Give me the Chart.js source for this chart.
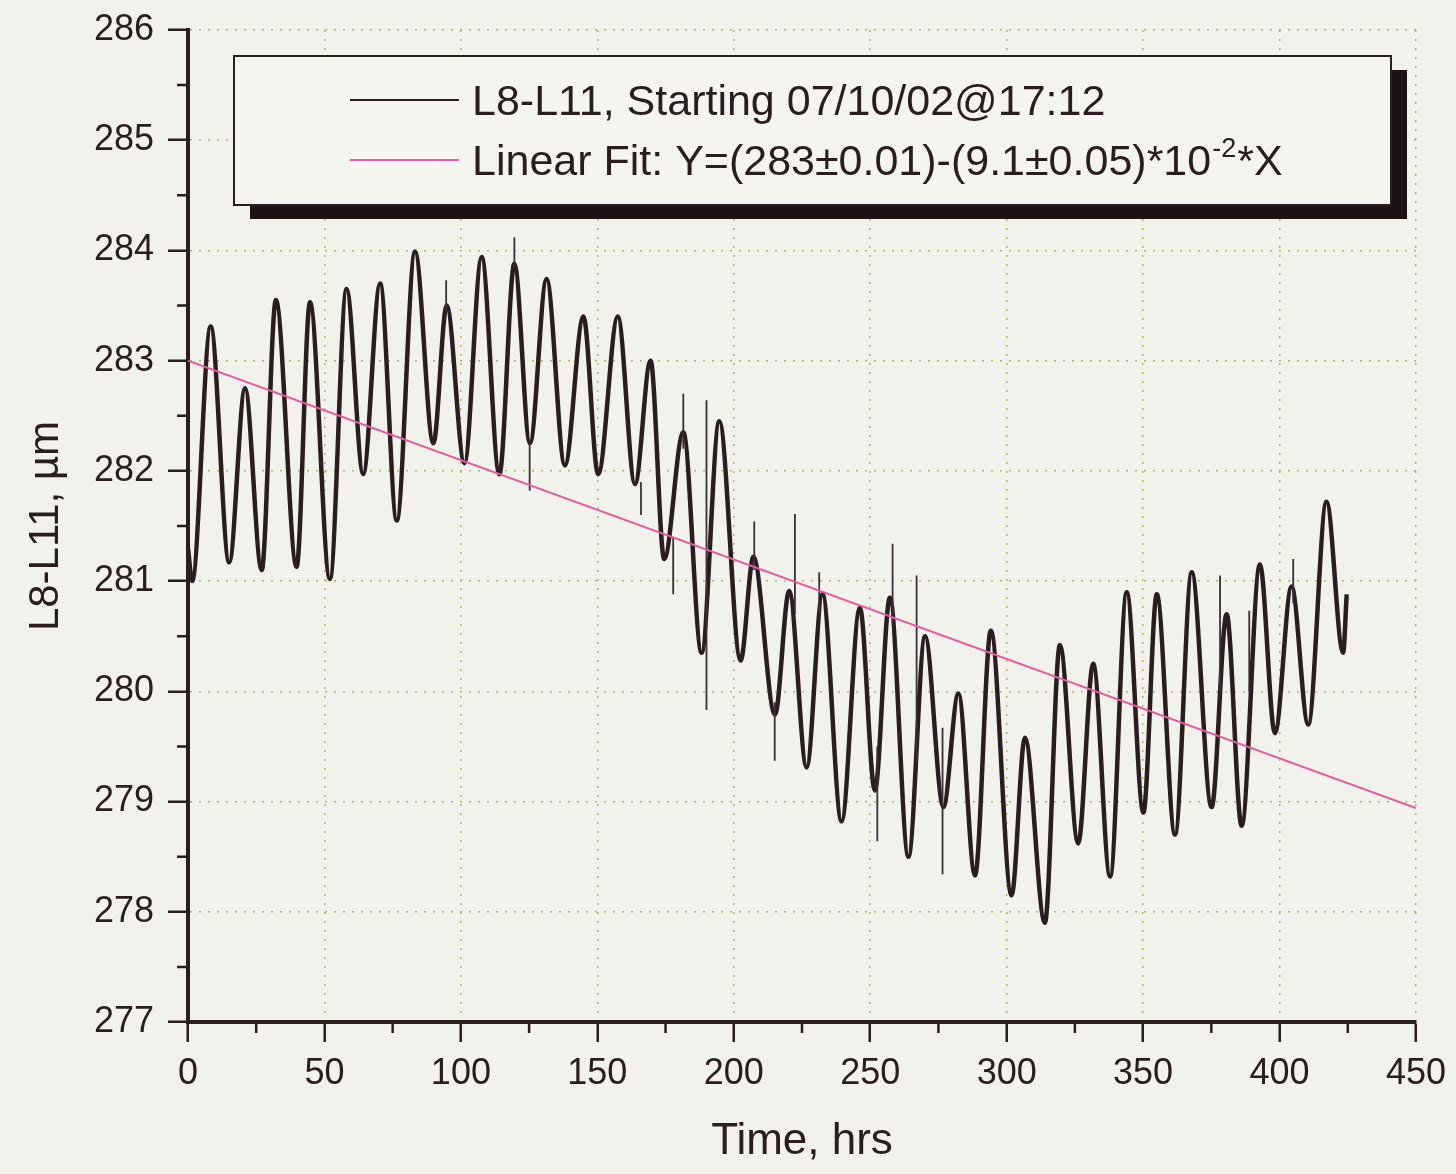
<!DOCTYPE html>
<html>
<head>
<meta charset="utf-8">
<title>L8-L11 vs time</title>
<script src="https://cdn.jsdelivr.net/npm/chart.js@4/dist/chart.umd.min.js"></script>
<style>
  body { margin: 0; background: #f1f2ec; }
  #wrap { width: 1456px; height: 1174px; }
</style>
</head>
<body>
<div id="wrap"><canvas id="gapChart" width="1456" height="1174"></canvas></div>
<script>
// peaks and troughs (hours, micrometres)
const timeHrs = [0, 1.5, 8.3, 15.1, 20.9, 27.0, 32.2, 39.8, 44.7, 52.0,
  58.1, 64.2, 70.4, 76.5, 83.2, 89.9, 94.8, 101.3, 107.6, 114.1,
  119.6, 125.3, 131.4, 138.1, 144.9, 150.3, 157.5, 163.8, 169.5, 174.5,
  181.5, 188.2, 194.7, 202.5, 207.2, 215.1, 220.3, 226.7, 232.5, 239.5,
  246.2, 251.7, 257.2, 264.0, 270.1, 276.8, 282.3, 288.4, 294.2, 301.8,
  306.7, 314.0, 319.5, 326.2, 331.7, 337.9, 344.0, 350.1, 355.0, 361.7,
  367.8, 375.1, 380.6, 386.1, 392.8, 398.3, 404.4, 410.5, 417.2, 423.3, 424.6];
const gapUm = [281.3, 281.0, 283.31, 281.17, 282.75, 281.10, 283.55, 281.13, 283.53, 281.02,
  283.65, 281.97, 283.70, 281.55, 283.99, 282.25, 283.50, 282.07, 283.94, 281.97,
  283.88, 282.25, 283.74, 282.05, 283.40, 281.97, 283.40, 281.88, 283.00, 281.20,
  282.35, 280.35, 282.45, 280.28, 281.22, 279.79, 280.91, 279.31, 280.88, 278.82,
  280.76, 279.10, 280.85, 278.50, 280.50, 278.95, 279.98, 278.33, 280.55, 278.15,
  279.58, 277.90, 280.42, 278.62, 280.25, 278.32, 280.90, 278.90, 280.88, 278.70,
  281.08, 278.95, 280.70, 278.78, 281.15, 279.62, 280.95, 279.70, 281.72, 280.35, 280.88];

// isolated spikes in the record
const spikeTimes = [94.6, 119.6, 125.2, 166.0, 177.8, 181.5, 190.0, 207.5, 215.0, 222.4,
  231.3, 252.6, 258.2, 267.0, 276.5, 378.2, 388.9, 405.0];
const spikeLow = [283.45, 283.85, 281.82, 281.60, 280.88, 282.20, 279.83, 281.10, 279.37, 280.70,
  280.70, 278.64, 280.60, 279.35, 278.34, 279.98, 280.00, 280.80];
const spikeHigh = [283.73, 284.12, 282.25, 281.90, 281.40, 282.70, 282.64, 281.54, 279.90, 281.61,
  281.08, 279.50, 281.34, 281.05, 279.67, 281.05, 280.73, 281.20];

// linear fit line end points
const fitTimes = [0, 450];
const fitValues = [283.0, 278.94];

const xMin = 0, xMax = 450, xStep = 50, xMinorStep = 25;
const yMin = 277, yMax = 286, yStep = 1, yMinorStep = 0.5;

const seriesLabel = "L8-L11, Starting 07/10/02@17:12";
const fitLabel = "Linear Fit: Y=(283\u00b10.01)-(9.1\u00b10.05)*10";

const ink = "#2a1c1f";
const fitColor = "#e65b9f";
const gridColor = "#b7b266";
const fontFam = '"Liberation Sans", Arial, sans-serif';

const seriesPts = timeHrs.map((t, i) => ({ x: t, y: gapUm[i] }));
const spikePts = [];
spikeTimes.forEach((t, i) => {
  spikePts.push({ x: t, y: spikeLow[i] }, { x: t, y: spikeHigh[i] }, { x: t, y: null });
});
const fitPts = fitTimes.map((t, i) => ({ x: t, y: fitValues[i] }));

const paperBg = {
  id: "paperBg",
  beforeDraw(chart) {
    const c = chart.ctx;
    c.save();
    c.fillStyle = "#f1f2ec";
    c.fillRect(0, 0, chart.width, chart.height);
    c.restore();
  }
};

// short minor ticks between the major ones
const minorTicks = {
  id: "minorTicks",
  afterDraw(chart) {
    const c = chart.ctx, xs = chart.scales.x, ys = chart.scales.y, a = chart.chartArea;
    c.save();
    c.strokeStyle = ink;
    c.lineWidth = 2.5;
    c.beginPath();
    for (let v = xMin + xMinorStep; v < xMax; v += xStep) {
      const px = xs.getPixelForValue(v);
      c.moveTo(px, a.bottom);
      c.lineTo(px, a.bottom + 11);
    }
    for (let v = yMin + yMinorStep; v < yMax; v += yStep) {
      const py = ys.getPixelForValue(v);
      c.moveTo(a.left, py);
      c.lineTo(a.left - 11, py);
    }
    c.stroke();
    c.restore();
  }
};

// boxed legend with drop shadow, like the original plot
const boxLegend = {
  id: "boxLegend",
  afterDraw(chart) {
    const c = chart.ctx;
    const bx = 234, by = 56, bw = 1157, bh = 149;
    c.save();
    c.fillStyle = "#1e1214";
    c.fillRect(bx + 16, by + 14, bw, bh);
    c.fillStyle = "#f4f5f0";
    c.fillRect(bx, by, bw, bh);
    c.strokeStyle = ink;
    c.lineWidth = 2;
    c.strokeRect(bx, by, bw, bh);

    c.lineWidth = 2;
    c.strokeStyle = ink;
    c.beginPath(); c.moveTo(350, 100); c.lineTo(459, 100); c.stroke();
    c.strokeStyle = fitColor;
    c.beginPath(); c.moveTo(350, 160); c.lineTo(459, 160); c.stroke();

    c.fillStyle = ink;
    c.textBaseline = "alphabetic";
    c.font = "43px " + fontFam;
    c.fillText(seriesLabel, 472, 115);
    c.fillText(fitLabel, 472, 175);
    const w = c.measureText(fitLabel).width;
    c.font = "27px " + fontFam;
    c.fillText("-2", 472 + w + 1, 157);
    const w2 = c.measureText("-2").width;
    c.font = "43px " + fontFam;
    c.fillText("*X", 472 + w + w2 + 2, 175);
    c.restore();
  }
};

new Chart(document.getElementById("gapChart"), {
  type: "line",
  data: {
    datasets: [{
      label: fitLabel,
      data: fitPts,
      borderColor: fitColor,
      borderWidth: 2,
      pointRadius: 0,
      tension: 0,
      order: 0
    }, {
      label: "spikes",
      data: spikePts,
      borderColor: "#3d2c3a",
      borderWidth: 1.8,
      pointRadius: 0,
      tension: 0,
      spanGaps: false,
      order: 1
    }, {
      label: seriesLabel,
      data: seriesPts,
      borderColor: ink,
      borderWidth: 4.5,
      pointRadius: 0,
      cubicInterpolationMode: "monotone",
      order: 2
    }]
  },
  options: {
    responsive: false,
    animation: false,
    layout: { padding: { top: 30, right: 40, left: 0, bottom: 0 } },
    plugins: {
      legend: { display: false },
      tooltip: { enabled: false }
    },
    scales: {
      x: {
        type: "linear",
        min: xMin,
        max: xMax,
        afterFit: s => { s.height = 152; s.paddingLeft = 0; s.paddingRight = 0; },
        ticks: { stepSize: xStep, color: ink, padding: 10, font: { family: fontFam, size: 36 } },
        grid: { color: gridColor, lineWidth: 1.5, tickColor: ink, tickWidth: 2.5, tickLength: 20 },
        border: { color: ink, width: 4, dash: [2, 7] },
        title: { display: true, text: "Time, hrs", color: ink, padding: { bottom: 6 },
                 font: { family: fontFam, size: 44 } }
      },
      y: {
        min: yMin,
        max: yMax,
        afterFit: s => { s.width = 188; s.paddingTop = 0; s.paddingBottom = 0; },
        ticks: { stepSize: yStep, color: ink, padding: 14, font: { family: fontFam, size: 36 } },
        grid: { color: gridColor, lineWidth: 1.5, tickColor: ink, tickWidth: 2.5, tickLength: 20 },
        border: { color: ink, width: 4, dash: [2, 7] },
        title: { display: true, text: "L8-L11, \u00b5m", color: ink, padding: { top: 21 },
                 font: { family: fontFam, size: 42 } }
      }
    }
  },
  plugins: [paperBg, minorTicks, boxLegend]
});
</script>
</body>
</html>
